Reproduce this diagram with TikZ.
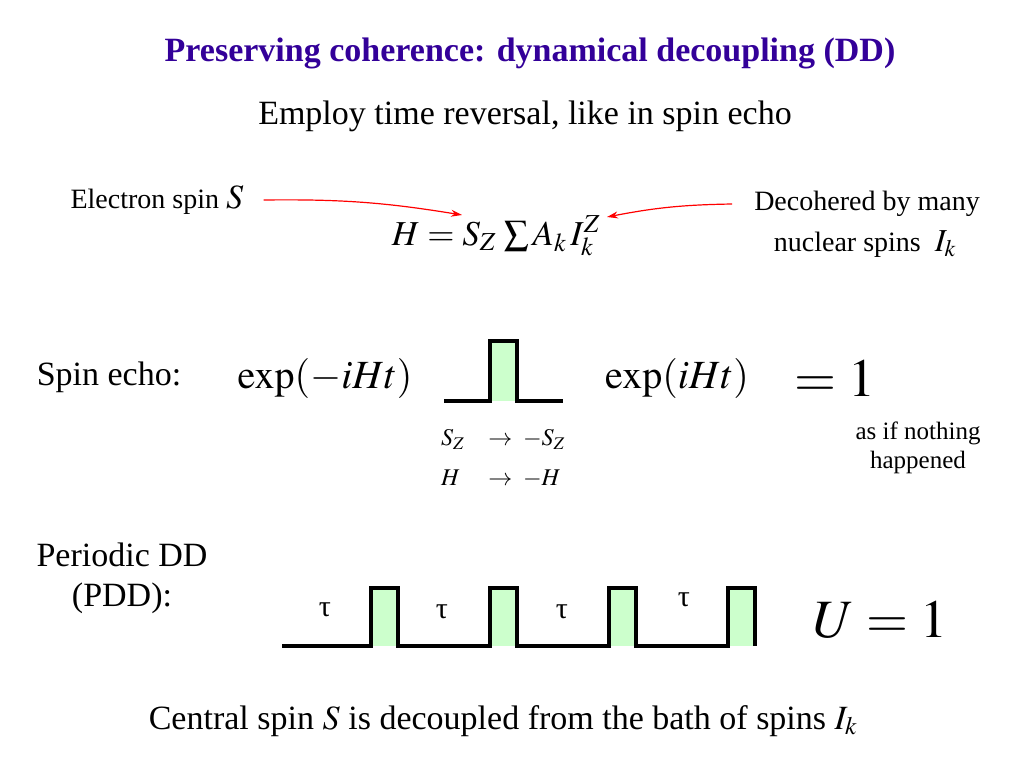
\documentclass[tikz,border=0pt]{standalone}
\usepackage{mathptmx}
\usepackage[no-math]{fontspec}
\setmainfont{Liberation Serif}
\usetikzlibrary{arrows.meta}
\definecolor{titleblue}{RGB}{51,0,153}
\definecolor{pulsegreen}{RGB}{204,255,204}
\newcommand{\fs}[1]{\fontsize{#1}{#1}\selectfont}

\begin{document}
\begin{tikzpicture}[x=1pt,y=-1pt,
	txt/.style={inner sep=0pt, font=\fs{34}},
	note/.style={inner sep=0pt, font=\fs{28}, align=center},
	big/.style={inner sep=0pt, font=\fs{40}},
	huge/.style={inner sep=0pt, font=\fs{54}},
	wave/.style={line width=3.5pt, line join=miter},
	pointer/.style={red, line width=1.2pt, -{Stealth[length=11pt,width=7pt]}}]
				\useasboundingbox (0,0) rectangle (1024,768);
				% headings
				\node[txt, font=\fs{34}\bfseries, text=titleblue] (title) at (530,53) {Preserving coherence: dynamical decoupling (DD)};
				\node[txt] (sub) at (525,116) {Employ time reversal, like in spin echo};
				% Hamiltonian
				\node[note] (elec) at (157,200) {Electron spin {\fs{34}$S$}};
				\node[txt, font=\fs{35}] (ham) at (496,236) {$H = S_Z \,\sum A_k\, I_k^Z$};
				\node[note] (decoh1) at (867,204) {Decohered by many};
				\node[note] (decoh2) at (865,244) {nuclear spins \ {\fs{32}$I_k$}};
				\coordinate (sz) at (462,215);
				\coordinate (ik) at (607,217);
				\draw[pointer] ([xshift=20]elec.east) to[bend left=5] (sz);
				\draw[pointer] ([xshift=-22]decoh1.west) to[bend right=5] (ik);
				% spin echo
				\node[txt] (echo) at (109,377) {Spin echo:};
				\node[big] (back) at (325,378) {$\exp(-iHt)$};
				\node[big] (fwd) at (677,378) {$\exp(iHt)$};
				\node[huge] (one) at (835,378) {$=1$};
				\node[note, font=\fs{25}] (nothing) at (918,448) {as if nothing\\[4pt]happened};
				\fill[pulsegreen] (490,341) rectangle (517,401);
				\draw[wave] (444,401) -- (490,401) -- (490,341) -- (517,341) -- (517,401) -- (563,401);
				\node[note, font=\fs{24}] (flip) at (503,461)
					{$\begin{array}{@{}l@{\quad}c@{\;\;}l@{}}
						S_Z & \rightarrow & -S_Z\\[16pt]
						H & \rightarrow & -H
					\end{array}$};
				% periodic DD
				\node[txt, align=center] (pdd) at (122,578) {Periodic DD\\[6pt](PDD):};
				\foreach \x in {371,490,609,728}
				{
					\fill[pulsegreen] (\x,588) rectangle (\x+27,646);
				}
				\draw[wave] (282,646) \foreach \x in {371,490,609,728} { -- (\x,646) -- (\x,588) -- (\x+27,588) -- (\x+27,646) };
				\foreach \x/\y [count=\i] in {325/610,442/612,562/612,684/600}
				{
					\node[txt, font=\fs{30}] (tau\i) at (\x,\y) {τ};
				}
				\node[huge] (unit) at (880,620) {$U=1$};
				% conclusion
				\node[txt] (concl) at (503,721) {Central spin $S$ is decoupled from the bath of spins $I_k$};
\end{tikzpicture}
\end{document}
